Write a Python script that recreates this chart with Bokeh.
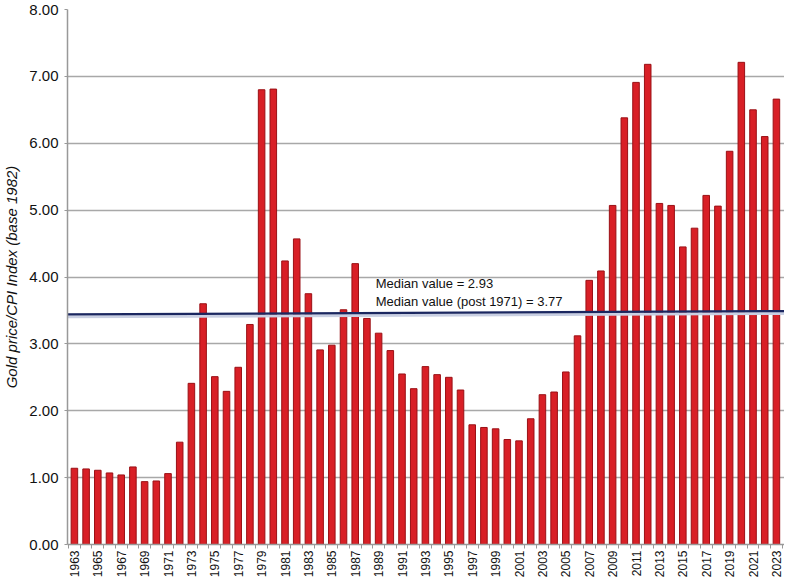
from bokeh.plotting import figure
from bokeh.models import FixedTicker, NumeralTickFormatter, Label, ColumnDataSource
from bokeh.embed import file_html
from bokeh.resources import INLINE
import math

years = list(range(1963, 2024))
values = [1.14, 1.13, 1.11, 1.07, 1.04, 1.16, 0.94, 0.95, 1.06, 1.53,
          2.41, 3.60, 2.51, 2.29, 2.65, 3.29, 6.80, 6.81, 4.24, 4.57,
          3.75, 2.91, 2.98, 3.51, 4.20, 3.38, 3.16, 2.90, 2.55, 2.33,
          2.66, 2.54, 2.50, 2.31, 1.79, 1.75, 1.73, 1.57, 1.55, 1.88,
          2.24, 2.28, 2.58, 3.12, 3.95, 4.09, 5.07, 6.38, 6.91, 7.18,
          5.10, 5.07, 4.45, 4.73, 5.22, 5.06, 5.88, 7.21, 6.50, 6.10,
          6.66]
label_years = list(range(1963, 2024, 2))
y_ticks = [0, 1, 2, 3, 4, 5, 6, 7, 8]
median_line_y = [3.44, 3.49]
median_texts = ["Median value = 2.93", "Median value (post 1971) = 3.77"]

x0, x1 = 1962.41, 2023.69
FONT = "Liberation Sans"

p = figure(width=784, height=580, output_backend="svg", toolbar_location=None,
           x_range=(x0, x1), y_range=(0, 8),
           min_border_left=0, min_border_right=0, min_border_top=9, min_border_bottom=0)
p.outline_line_color = None
p.background_fill_color = "white"

src = ColumnDataSource(dict(x=years, top=values))
p.vbar(x="x", top="top", width=0.56, bottom=0, source=src,
       fill_color="#d81f26", line_color="#9a1015", line_width=1)

# median line with light shadow
p.line([x0, x1], [v - 0.035 for v in median_line_y], line_color="#c9cfe2", line_width=3)
p.line([x0, x1], median_line_y, line_color="#1b2760", line_width=2.2)

p.add_layout(Label(x=1988.75, y=3.90, text=median_texts[0], text_font=FONT,
                   text_font_size="13px", text_baseline="middle", text_color="#111111"))
p.add_layout(Label(x=1988.75, y=3.63, text=median_texts[1], text_font=FONT,
                   text_font_size="13px", text_baseline="middle", text_color="#111111"))

# y axis
p.yaxis.ticker = FixedTicker(ticks=y_ticks)
p.yaxis.formatter = NumeralTickFormatter(format="0.00")
p.yaxis.major_label_text_font = FONT
p.yaxis.major_label_text_font_size = "15px"
p.yaxis.major_label_text_color = "#111111"
p.yaxis.axis_label = "Gold price/CPI Index (base 1982)"
p.yaxis.axis_label_text_font = FONT
p.yaxis.axis_label_text_font_style = "italic"
p.yaxis.axis_label_text_font_size = "15px"
p.yaxis.axis_label_text_color = "#111111"
p.yaxis.axis_label_standoff = 6
p.yaxis.major_label_standoff = 6
p.yaxis.axis_line_color = "#999999"
p.yaxis.axis_line_width = 1.5
p.yaxis.major_tick_line_color = "#999999"
p.yaxis.major_tick_out = 3
p.yaxis.major_tick_in = 0
p.yaxis.minor_tick_line_color = None

# x axis
p.xaxis.ticker = FixedTicker(ticks=label_years, minor_ticks=[y - 0.5 for y in years] + [years[-1] + 0.5])
p.xaxis.major_label_orientation = math.pi / 2
p.xaxis.major_label_text_font = FONT
p.xaxis.major_label_text_font_size = "12px"
p.xaxis.major_label_text_color = "#111111"
p.xaxis.major_label_standoff = 2
p.xaxis.major_tick_line_color = None
p.xaxis.major_tick_out = 4
p.xaxis.major_tick_in = 0
p.xaxis.minor_tick_line_color = "#999999"
p.xaxis.minor_tick_out = 4
p.xaxis.minor_tick_in = 0
p.xaxis.axis_line_color = "#999999"
p.xaxis.axis_line_width = 1.5

p.xgrid.grid_line_color = None
p.ygrid.ticker = FixedTicker(ticks=y_ticks)
p.ygrid.grid_line_color = "#a8a8a8"
p.ygrid.grid_line_width = 1.5

open("out.html", "w").write(file_html(p, INLINE))
